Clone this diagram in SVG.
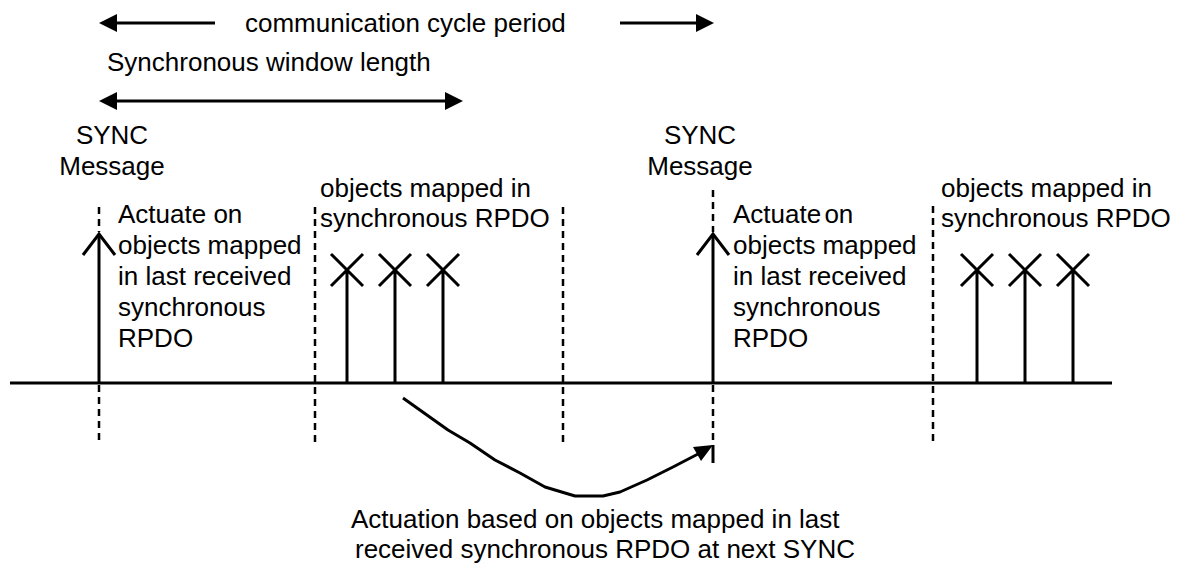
<svg xmlns="http://www.w3.org/2000/svg" width="1180" height="571" viewBox="0 0 1180 571">
<style>
text{font-family:"Liberation Sans",Arial,Helvetica,sans-serif;font-size:26px;fill:#000}
.s{stroke:#000;stroke-width:3;fill:none}
.d{stroke:#000;stroke-width:2.5;stroke-dasharray:7 5;fill:none}
.h{fill:#000;stroke:none}
</style>
<rect width="1180" height="571" fill="#fff"/>
<g id="cycle-period">
<line class="s" x1="114" y1="23" x2="215" y2="23"/>
<polygon class="h" points="99,23 117,14 117,32"/>
<line class="s" x1="620" y1="23" x2="697" y2="23"/>
<polygon class="h" points="714,23 696,14 696,32"/>
<text x="245" y="32">communication cycle period</text>
</g>
<g id="sync-window">
<text x="107" y="71">Synchronous window length</text>
<line class="s" x1="114" y1="101" x2="448" y2="101"/>
<polygon class="h" points="99,101 117,92 117,110"/>
<polygon class="h" points="463,101 445,92 445,110"/>
</g>
<g id="timeline">
<line class="s" x1="10" y1="383" x2="1112" y2="383"/>
</g>
<g id="sync1">
<text x="112" y="144" text-anchor="middle">SYNC</text>
<text x="112" y="175" text-anchor="middle">Message</text>
<line class="d" x1="99" y1="207" x2="99" y2="232"/>
<line class="s" x1="99" y1="234" x2="99" y2="383"/>
<polyline class="s" points="83,255 99,234 115,255"/>
<line class="d" x1="99" y1="385" x2="99" y2="443"/>
<text x="118" y="223">Actuate on</text>
<text x="118" y="254">objects mapped</text>
<text x="118" y="285">in last received</text>
<text x="118" y="316">synchronous</text>
<text x="118" y="347">RPDO</text>
</g>
<g id="window1">
<line class="d" x1="315" y1="207" x2="315" y2="443"/>
<line class="d" x1="563" y1="207" x2="563" y2="443"/>
<text x="320" y="197">objects mapped in</text>
<text x="320" y="227">synchronous RPDO</text>
<path class="s" d="M331,254 L363,286 M331,286 L363,254 M347,270 V383 M379,254 L411,286 M379,286 L411,254 M395,270 V383 M427,254 L459,286 M427,286 L459,254 M443,270 V383"/>
</g>
<g id="sync2">
<text x="700" y="144" text-anchor="middle">SYNC</text>
<text x="700" y="175" text-anchor="middle">Message</text>
<line class="d" x1="713" y1="190" x2="713" y2="232"/>
<line class="s" x1="713" y1="234" x2="713" y2="383"/>
<polyline class="s" points="697,255 713,234 729,255"/>
<line class="d" x1="713" y1="385" x2="713" y2="443"/>
<line class="s" x1="713" y1="445" x2="713" y2="463"/>
<text x="733" y="223" word-spacing="-4">Actuate on</text>
<text x="733" y="254">objects mapped</text>
<text x="733" y="285">in last received</text>
<text x="733" y="316">synchronous</text>
<text x="733" y="347">RPDO</text>
</g>
<g id="window2">
<line class="d" x1="933" y1="206" x2="933" y2="443"/>
<text x="941" y="197">objects mapped in</text>
<text x="941" y="227">synchronous RPDO</text>
<path class="s" d="M961,254 L993,286 M961,286 L993,254 M977,270 V383 M1009,254 L1041,286 M1009,286 L1041,254 M1025,270 V383 M1057,254 L1089,286 M1057,286 L1089,254 M1073,270 V383"/>
</g>
<g id="connectors">
<polyline class="s" stroke-linejoin="round" points="403,398 448,430 470,443 495,460 520,473 545,487 575,496 603,496 620,492 647,480 673,467 698,454"/>
<polygon class="h" points="713,445 693,447 701,461"/>
</g>
<g id="caption">
<text x="351" y="528">Actuation based on objects mapped in last</text>
<text x="355" y="558">received synchronous RPDO at next SYNC</text>
</g>
</svg>
